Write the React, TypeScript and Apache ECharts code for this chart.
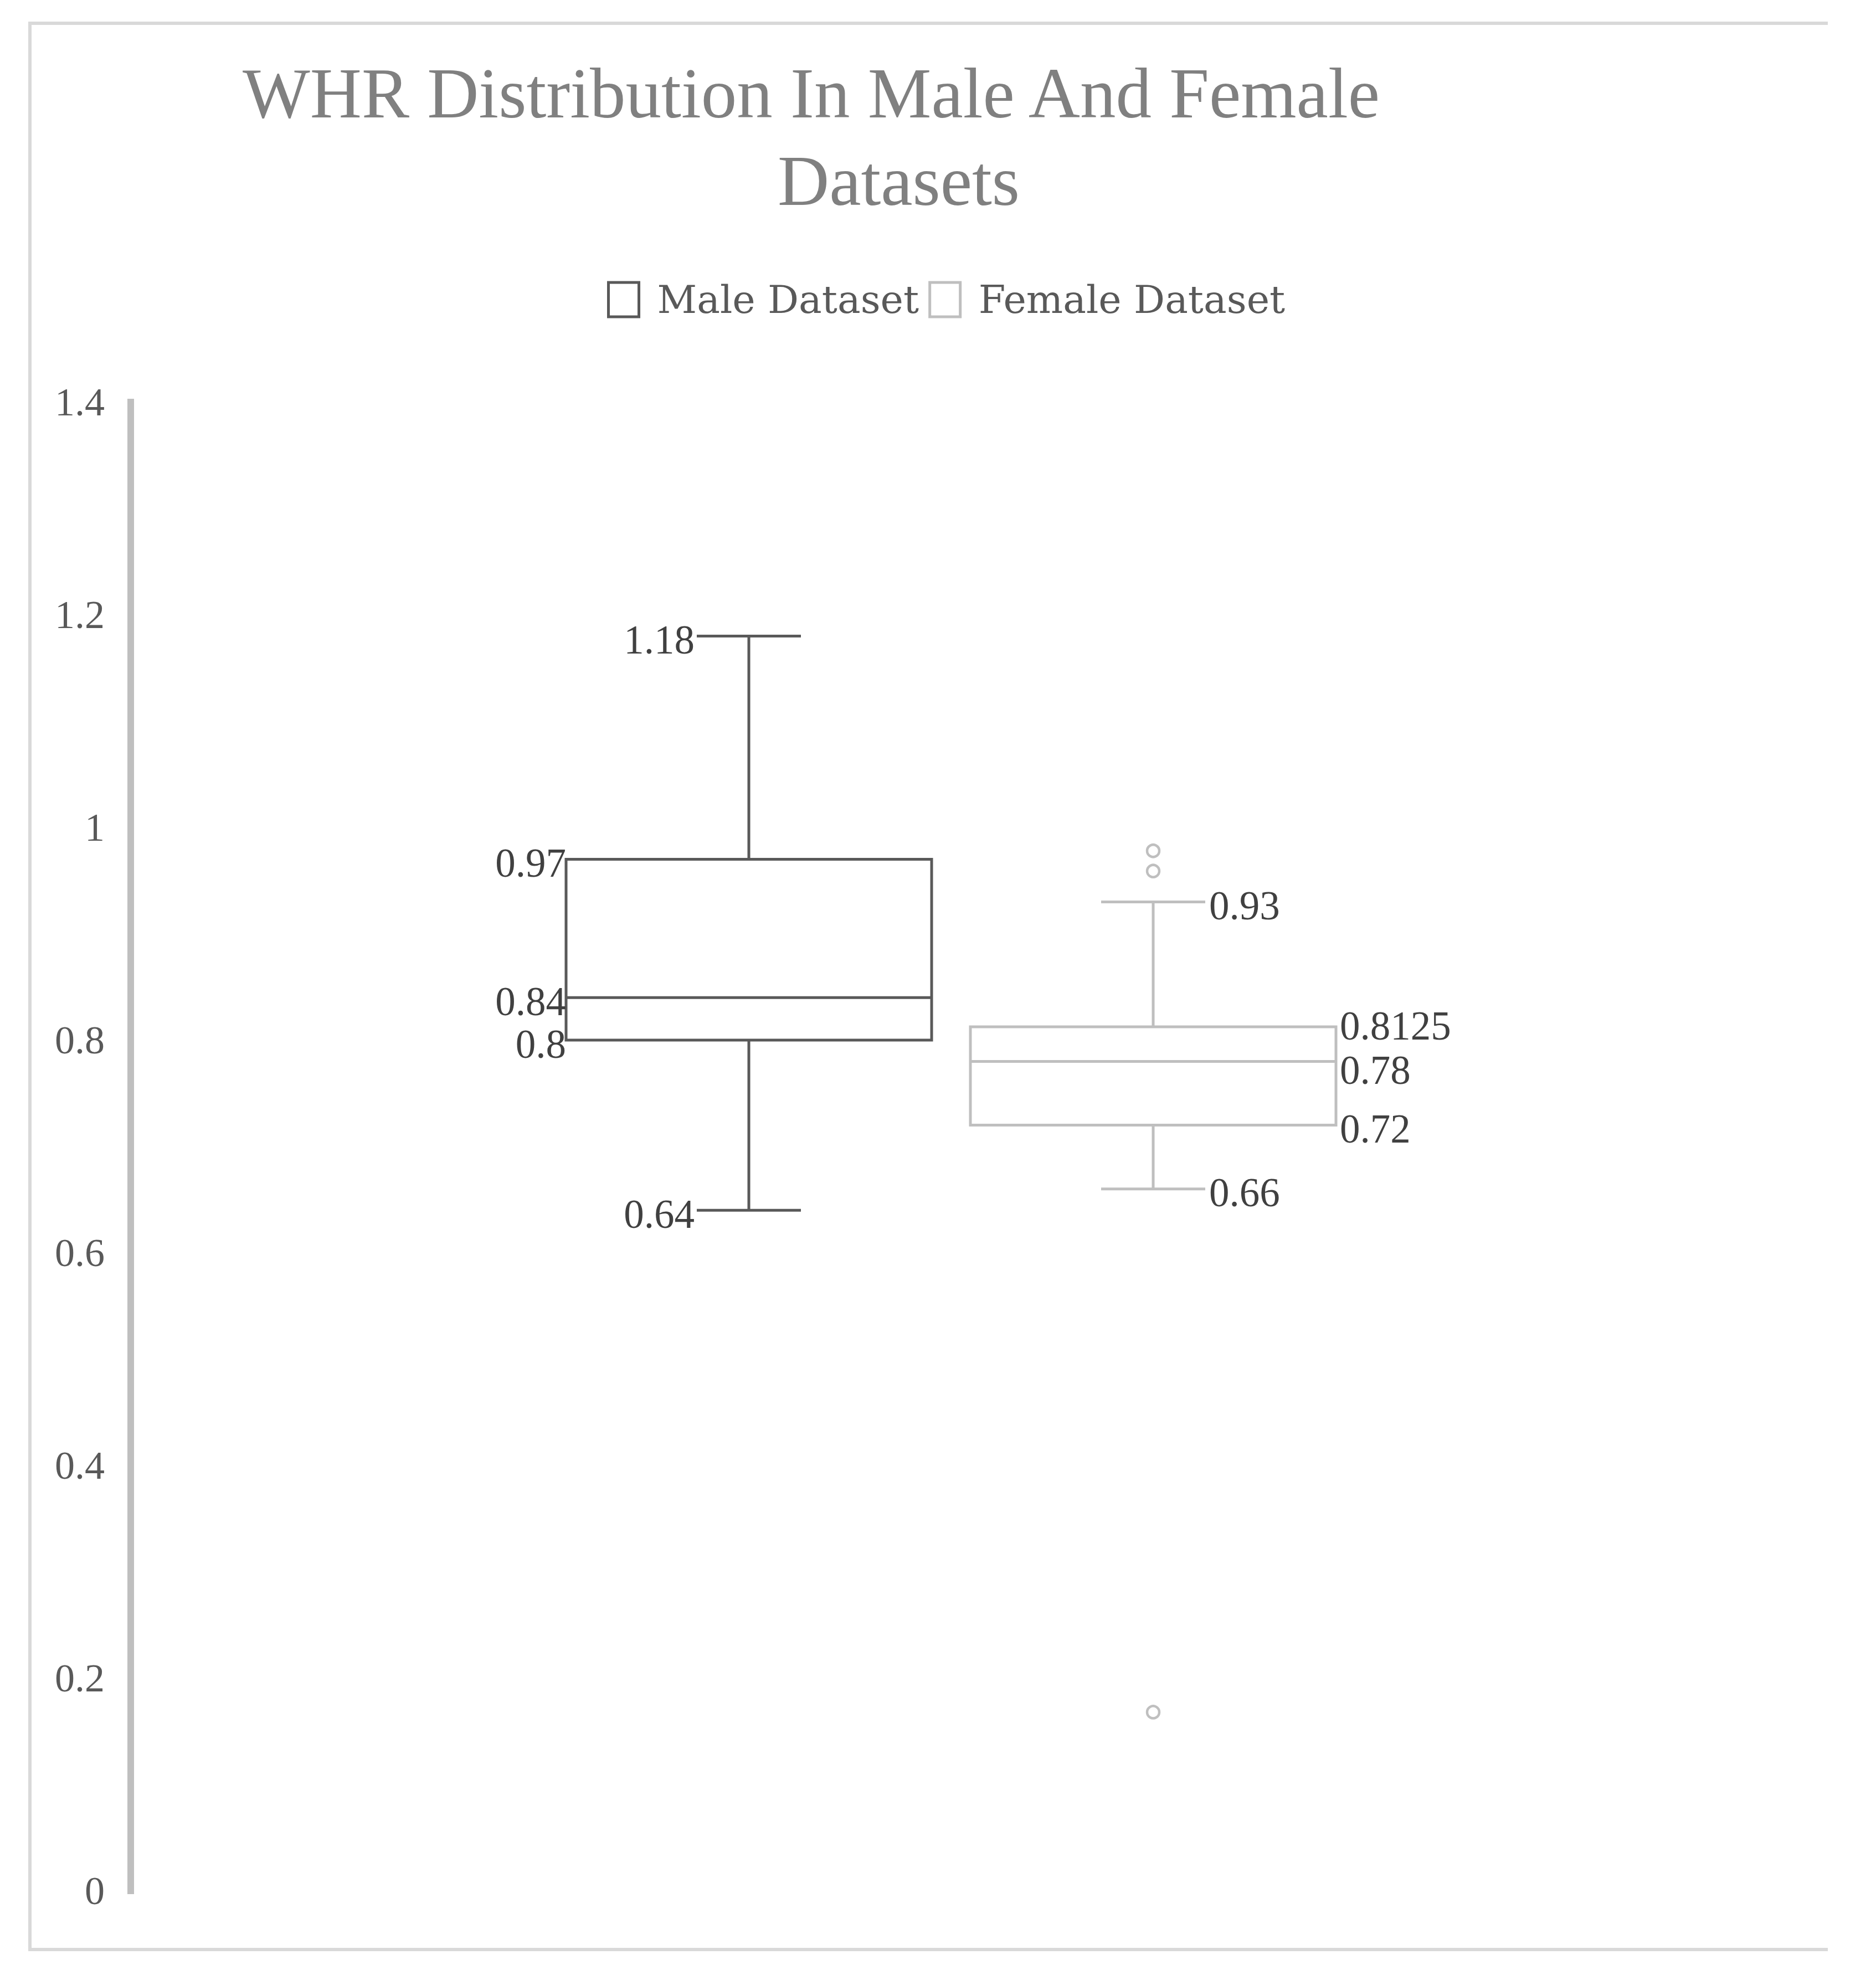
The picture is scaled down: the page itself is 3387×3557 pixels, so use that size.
import React, { useEffect, useRef } from 'react';
import * as echarts from 'echarts';

// ---------- data ----------
const categories = ['WHR'];
const seriesNames = ['Male Dataset', 'Female Dataset'];
// [min, Q1, median, Q3, max]
const maleStats = [0.64, 0.8, 0.84, 0.97, 1.18];
const femaleStats = [0.66, 0.72, 0.78, 0.8125, 0.93];
const femaleOutliers = [0.978, 0.959, 0.168];
const yAxisMin = 0;
const yAxisMax = 1.4;
const yAxisInterval = 0.2;
const titleLines = ['WHR Distribution In Male And Female', 'Datasets'];

// ---------- layout / style ----------
const W = 3387;
const H = 3557;
const MALE_COLOR = '#595959';
const FEMALE_COLOR = '#bfbfbf';
const LABEL_COLOR = '#404040';
const GRID_LEFT = 236;
const GRID_RIGHT = 189;
const GRID_TOP = 726;
const GRID_BOTTOM = 143;
const BAND_PX = W - GRID_LEFT - GRID_RIGHT;
const SERIES_OFFSET = 365 / BAND_PX;
const BOX_HALF = 330 / BAND_PX;
const CAP_HALF = 94 / BAND_PX;

function makeBoxRenderer(side: number, color: string) {
  return (params: any, api: any) => {
    const band = api.size([1, 0])[0];
    const cat = api.value(0);
    const cx = api.coord([cat, 0])[0] + side * SERIES_OFFSET * band;
    const v = [1, 2, 3, 4, 5].map((i) => api.value(i) as number);
    const y = v.map((val) => api.coord([cat, val])[1]);
    const bh = BOX_HALF * band;
    const ch = CAP_HALF * band;
    const ls = { stroke: color, lineWidth: 5, fill: null };
    const children: any[] = [
      { type: 'rect', shape: { x: cx - bh, y: y[3], width: 2 * bh, height: y[1] - y[3] }, style: { stroke: color, lineWidth: 5, fill: 'rgba(255,255,255,0)' } },
      { type: 'line', shape: { x1: cx - bh, y1: y[2], x2: cx + bh, y2: y[2] }, style: ls },
      { type: 'line', shape: { x1: cx, y1: y[3], x2: cx, y2: y[4] }, style: ls },
      { type: 'line', shape: { x1: cx, y1: y[1], x2: cx, y2: y[0] }, style: ls },
      { type: 'line', shape: { x1: cx - ch, y1: y[4], x2: cx + ch, y2: y[4] }, style: ls },
      { type: 'line', shape: { x1: cx - ch, y1: y[0], x2: cx + ch, y2: y[0] }, style: ls },
    ];
    v.forEach((val, i) => {
      const isWhisker = i === 0 || i === 4;
      const edge = isWhisker ? ch : bh;
      const x = side < 0 ? cx - edge - (isWhisker ? 4 : 0) : cx + edge + 7;
      // keep close neighbours (Q3 / median) from colliding
      let dy = 7;
      if (side > 0 && i === 3) dy = -2;
      if (side > 0 && i === 2) dy = 16;
      children.push({
        type: 'text',
        x,
        y: y[i] + dy,
        style: {
          text: String(val),
          align: side < 0 ? 'right' : 'left',
          verticalAlign: 'middle',
          fill: LABEL_COLOR,
          fontSize: 73,
          fontFamily: 'Liberation Serif',
        },
      });
    });
    return { type: 'group', children };
  };
}

function renderOutlier(params: any, api: any) {
  const band = api.size([1, 0])[0];
  const p = api.coord([api.value(0), api.value(1)]);
  return {
    type: 'circle',
    shape: { cx: p[0] + SERIES_OFFSET * band, cy: p[1], r: 11 },
    style: { stroke: FEMALE_COLOR, lineWidth: 4.5, fill: '#ffffff' },
  };
}

export default function App() {
  const ref = useRef<HTMLDivElement>(null);
  useEffect(() => {
    if (!ref.current) return;
    const chart = echarts.init(ref.current, null, { renderer: 'svg', width: W, height: H });
    chart.setOption({
      animation: false,
      backgroundColor: '#ffffff',
      title: [
        {
          text: titleLines[0],
          left: 438,
          top: 104,
          padding: 0,
          textStyle: { fontFamily: 'Liberation Serif', fontSize: 129, fontWeight: 'normal', color: '#808080', lineHeight: 129 },
        },
        {
          text: titleLines[1],
          left: 1404,
          top: 262,
          padding: 0,
          textStyle: { fontFamily: 'Liberation Serif', fontSize: 129, fontWeight: 'normal', color: '#808080', lineHeight: 129 },
        },
      ],
      legend: {
        left: 1096,
        top: 506,
        padding: 0,
        itemGap: 17,
        itemWidth: 55,
        itemHeight: 62,
        selectedMode: false,
        data: [
          { name: seriesNames[0], icon: 'rect', itemStyle: { color: '#ffffff', borderColor: MALE_COLOR, borderWidth: 5 } },
          { name: seriesNames[1], icon: 'rect', itemStyle: { color: '#ffffff', borderColor: FEMALE_COLOR, borderWidth: 5 } },
        ],
        textStyle: { fontFamily: 'DejaVu Serif', fontSize: 70, color: '#595959', padding: [0, 0, 0, 28] },
      },
      grid: { left: GRID_LEFT, right: GRID_RIGHT, top: GRID_TOP, bottom: GRID_BOTTOM, containLabel: false },
      xAxis: {
        type: 'category',
        data: categories,
        show: false,
      },
      yAxis: {
        type: 'value',
        min: yAxisMin,
        max: yAxisMax,
        interval: yAxisInterval,
        axisLine: { show: true, lineStyle: { color: '#bfbfbf', width: 12, cap: 'square' } },
        axisTick: { show: false },
        splitLine: { show: false },
        axisLabel: { margin: 47, fontFamily: 'Liberation Serif', fontSize: 72, color: '#595959' },
      },
      graphic: [
        {
          type: 'polyline',
          z: -1,
          shape: { points: [[3300, 42], [54, 42], [54, 3520], [3300, 3520]] },
          style: { stroke: '#d9d9d9', lineWidth: 6, fill: null },
        },
      ],
      series: [
        {
          name: seriesNames[0],
          type: 'custom',
          renderItem: makeBoxRenderer(-1, MALE_COLOR),
          itemStyle: { color: '#ffffff', borderColor: MALE_COLOR },
          encode: { x: 0, y: [1, 2, 3, 4, 5] },
          data: [[0, ...maleStats]],
        },
        {
          name: seriesNames[1],
          type: 'custom',
          renderItem: makeBoxRenderer(1, FEMALE_COLOR),
          itemStyle: { color: '#ffffff', borderColor: FEMALE_COLOR },
          encode: { x: 0, y: [1, 2, 3, 4, 5] },
          data: [[0, ...femaleStats]],
        },
        {
          name: seriesNames[1],
          type: 'custom',
          renderItem: renderOutlier,
          encode: { x: 0, y: 1 },
          data: femaleOutliers.map((v) => [0, v]),
        },
      ],
    });
    return () => chart.dispose();
  }, []);
  return <div ref={ref} style={{ position: 'absolute', left: 0, top: 0, width: W, height: H }} />;
}
